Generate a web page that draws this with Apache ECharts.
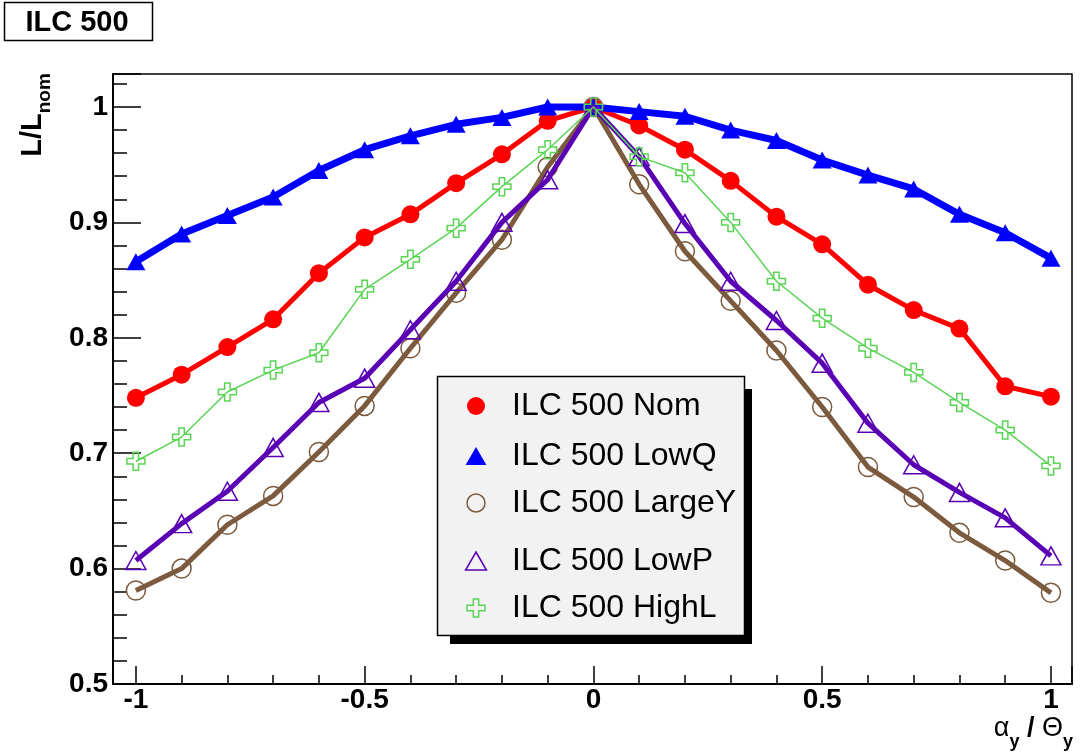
<!DOCTYPE html>
<html>
<head>
<meta charset="utf-8">
<script src="https://cdn.jsdelivr.net/npm/echarts@6/dist/echarts.min.js"></script>
<style>
html,body{margin:0;padding:0;background:#fff;}
#main{width:1080px;height:755px;}
</style>
</head>
<body>
<div id="main"></div>
<script>
const xValues = [-1, -0.9, -0.8, -0.7, -0.6, -0.5, -0.4, -0.3, -0.2, -0.1, 0, 0.1, 0.2, 0.3, 0.4, 0.5, 0.6, 0.7, 0.8, 0.9, 1];
const nom    = [0.748,0.768,0.792,0.816,0.856,0.887,0.907,0.934,0.959,0.988,1.0,0.984,0.963,0.936,0.905,0.881,0.846,0.824,0.808,0.758,0.749];
const lowQ   = [0.866,0.890,0.906,0.922,0.945,0.963,0.975,0.985,0.991,1.0,1.0,0.996,0.992,0.980,0.971,0.954,0.941,0.929,0.907,0.891,0.869];
const largeY = [0.581,0.600,0.638,0.663,0.701,0.741,0.791,0.839,0.885,0.948,1.0,0.933,0.875,0.832,0.789,0.740,0.688,0.662,0.631,0.607,0.579];
const lowP   = [0.607,0.639,0.667,0.705,0.744,0.765,0.807,0.849,0.900,0.937,1.0,0.957,0.899,0.849,0.815,0.778,0.726,0.690,0.666,0.644,0.611];
const highL  = [0.693,0.714,0.753,0.772,0.787,0.842,0.868,0.895,0.931,0.963,1.0,0.957,0.943,0.900,0.849,0.817,0.791,0.770,0.744,0.720,0.689];
const seriesNames = ['ILC 500 Nom', 'ILC 500 LowQ', 'ILC 500 LargeY', 'ILC 500 LowP', 'ILC 500 HighL'];
const titleText = 'ILC 500';

const FONT = '"Liberation Sans", Arial, Helvetica, sans-serif';
const TRI = 'path://M10,0 L20,17.3 L0,17.3 Z';
const CROSS = 'path://M7,0 L13,0 L13,7 L20,7 L20,13 L13,13 L13,20 L7,20 L7,13 L0,13 L0,7 L7,7 Z';
const C_RED = '#ff0000', C_BLUE = '#0000ff', C_BROWN = '#7b5a3e', C_PURPLE = '#5a00b4', C_GREEN = '#59d454';
const CLEAR = 'rgba(0,0,0,0)';

function pairs(vals) { return xValues.map((x, i) => [x, vals[i]]); }

const styles = [
  {data: nom, color: C_RED, width: 5, symbol: 'circle', size: 18, fill: C_RED, border: C_RED, bw: 0, icon: 'circle', iconW: 18},
  {data: lowQ, color: C_BLUE, width: 7, symbol: TRI, size: [19, 17], fill: C_BLUE, border: C_BLUE, bw: 0, icon: TRI, iconW: 20.8},
  {data: largeY, color: C_BROWN, width: 5, symbol: 'circle', size: 19, fill: CLEAR, border: C_BROWN, bw: 1.5, icon: 'circle', iconW: 19.5},
  {data: lowP, color: C_PURPLE, width: 5, symbol: TRI, size: [20, 18], fill: CLEAR, border: C_PURPLE, bw: 1.5, icon: TRI, iconW: 22.3},
  {data: highL, color: C_GREEN, width: 1.5, symbol: CROSS, size: 18, fill: CLEAR, border: C_GREEN, bw: 1.5, icon: CROSS, iconW: 19.5}
];

const legendRows = [405, 455, 502, 560, 607];

const series = styles.map((s, i) => ({
  name: seriesNames[i],
  type: 'line',
  data: pairs(s.data),
  symbol: s.symbol,
  symbolSize: s.size,
  showAllSymbol: true,
  lineStyle: {color: s.color, width: s.width, join: 'round'},
  itemStyle: {color: s.fill, borderColor: s.border, borderWidth: s.bw},
  emphasis: {disabled: true},
  z: 2 + i * 0.01
}));

const ITEM_W = 62;
const legends = styles.map((s, i) => ({
  data: [{name: seriesNames[i], icon: s.icon,
          itemStyle: {color: s.fill, borderColor: s.border, borderWidth: s.bw}}],
  left: 445 + (ITEM_W - s.iconW) / 2,
  top: legendRows[i] - 15,
  itemWidth: ITEM_W,
  itemHeight: 18,
  padding: 0,
  selectedMode: false,
  textStyle: {fontSize: 32, fontFamily: FONT, color: '#000', lineHeight: 18}
}));

function labelFmt(step) {
  return function (v) {
    const k = v / step;
    if (Math.abs(k - Math.round(k)) > 1e-6) return '';
    const r = Math.round(v * 100) / 100;
    return String(r);
  };
}

const option = {
  animation: false,
  backgroundColor: '#fff',
  grid: {left: 113, right: 8, top: 74, bottom: 71, show: true, borderColor: '#000', borderWidth: 1.5, backgroundColor: 'transparent'},
  xAxis: {
    type: 'value', min: -1.05, max: 1.046, splitNumber: 5,
    axisLine: {onZero: false, lineStyle: {color: '#000', width: 2}},
    axisTick: {inside: true, length: 18, lineStyle: {color: '#000', width: 1.5}},
    minorTick: {show: true, splitNumber: 5, length: 9, lineStyle: {color: '#000', width: 1.5}},
    splitLine: {show: false},
    axisLabel: {fontSize: 28, fontWeight: 'bold', fontFamily: FONT, color: '#000', margin: 2, formatter: labelFmt(0.5)}
  },
  yAxis: {
    type: 'value', min: 0.5, max: 1.0286, splitNumber: 5,
    axisLine: {onZero: false, lineStyle: {color: '#000', width: 2}},
    axisTick: {inside: true, length: 28, lineStyle: {color: '#000', width: 1.5}},
    minorTick: {show: true, splitNumber: 5, length: 14, lineStyle: {color: '#000', width: 1.5}},
    splitLine: {show: false},
    axisLabel: {fontSize: 28, fontWeight: 'bold', fontFamily: FONT, color: '#000', margin: 5, formatter: labelFmt(0.1)}
  },
  legend: legends,
  graphic: [
    {type: 'rect', z: 3, shape: {x: 450, y: 389, width: 302, height: 255}, style: {fill: '#000'}},
    {type: 'rect', z: 3, shape: {x: 437.5, y: 376.5, width: 307, height: 259}, style: {fill: '#f2f2f2', stroke: '#000', lineWidth: 1.5}},
    {type: 'rect', z: 3, shape: {x: 4.5, y: 2.5, width: 148, height: 38}, style: {fill: '#fff', stroke: '#000', lineWidth: 1.5}},
    {type: 'text', z: 4, x: 77, y: 23, style: {text: titleText, fontSize: 29, fontWeight: 'bold', fontFamily: FONT, fill: '#000', align: 'center', verticalAlign: 'middle'}},
    {type: 'text', z: 4, x: 36, y: 115, rotation: Math.PI / 2,
      style: {text: '{m|L/L}{s|nom}', align: 'center', verticalAlign: 'middle',
        rich: {
          m: {fontSize: 29, fontWeight: 'bold', fontFamily: FONT, fill: '#000', lineHeight: 29, verticalAlign: 'top'},
          s: {fontSize: 19, fontWeight: 'bold', fontFamily: FONT, fill: '#000', lineHeight: 36, verticalAlign: 'bottom'}
        }}},
    {type: 'text', z: 4, x: 1073, y: 733,
      style: {text: '{a|α}{s|y}{b| / }{a|Θ}{s|y}', align: 'right', verticalAlign: 'middle',
        rich: {
          a: {fontSize: 27, fontFamily: FONT, fill: '#000', lineHeight: 27, verticalAlign: 'top'},
          b: {fontSize: 27, fontWeight: 'bold', fontFamily: FONT, fill: '#000', lineHeight: 27, verticalAlign: 'top'},
          s: {fontSize: 18, fontWeight: 'bold', fontFamily: FONT, fill: '#000', lineHeight: 36, verticalAlign: 'bottom'}
        }}}
  ],
  series: series
};

const chart = echarts.init(document.getElementById('main'), null, {renderer: 'canvas'});
chart.setOption(option);
</script>
</body>
</html>
